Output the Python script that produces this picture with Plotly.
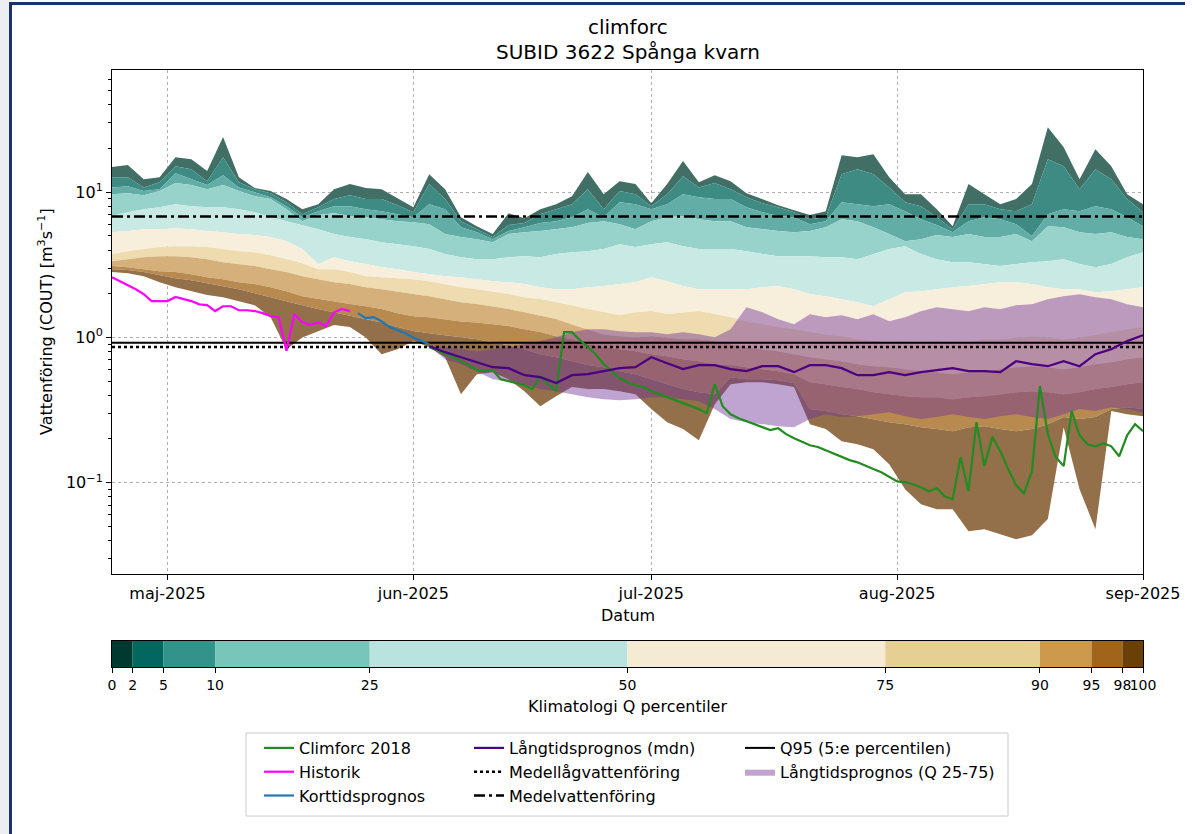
import pandas as pd
import plotly.graph_objects as go

# ---------------- data ----------------
band_dates = pd.date_range("2025-04-24", periods=66, freq="2D")
pct_levels = [0, 2, 5, 10, 25, 50, 75, 90, 95, 98, 100]

q_p000 = [14.9, 15.4, 12.3, 12.7, 17.4, 16.9, 14.0, 24.0, 12.7, 10.7,
          10.2, 8.97, 7.65, 8.28, 10.5, 11.4, 10.7, 10.5, 9.11, 7.89,
          13.3, 10.5, 6.74, 5.84, 5.15, 7.18, 6.63, 7.65, 8.28, 9.40,
          13.8, 9.70, 11.9, 11.4, 8.41, 11.4, 16.4, 11.7, 13.1, 11.9,
          9.86, 8.97, 8.15, 7.53, 6.96, 7.41, 18.0, 17.4, 18.3, 12.7,
          9.70, 9.70, 7.65, 5.84, 11.4, 9.70, 8.28, 8.97, 11.4, 28.0,
          20.4, 12.3, 19.8, 15.1, 9.70, 8.28]
q_p002 = [12.7, 12.7, 10.8, 11.7, 15.1, 14.4, 11.9, 17.4, 11.7, 10.5,
          9.86, 8.55, 7.07, 7.89, 8.97, 9.55, 8.97, 8.97, 8.15, 7.29,
          11.4, 8.97, 6.32, 5.57, 4.91, 5.94, 6.13, 7.07, 7.65, 8.28,
          10.5, 7.65, 10.2, 9.70, 8.02, 9.70, 12.9, 10.8, 11.6, 10.5,
          9.25, 8.41, 7.89, 7.29, 6.53, 6.74, 13.3, 14.4, 13.3, 10.8,
          8.55, 8.02, 6.74, 5.57, 8.28, 8.28, 7.65, 7.41, 8.28, 16.9,
          15.1, 10.5, 14.4, 12.3, 8.97, 7.29]
q_p005 = [10.8, 11.0, 10.2, 10.5, 13.5, 12.3, 11.2, 13.1, 10.8, 10.0,
          9.25, 8.02, 6.74, 7.41, 8.02, 8.02, 7.65, 7.41, 7.07, 6.74,
          8.28, 7.65, 5.75, 5.31, 4.75, 5.40, 5.75, 6.13, 6.32, 6.74,
          7.65, 6.74, 8.55, 8.28, 7.65, 8.28, 9.70, 9.25, 8.97, 8.97,
          7.89, 7.29, 6.85, 6.74, 6.03, 6.32, 8.55, 8.28, 8.02, 8.28,
          7.41, 6.53, 5.94, 5.31, 6.32, 6.74, 6.53, 6.03, 4.99, 7.07,
          7.65, 7.41, 8.02, 7.65, 6.74, 5.84]
q_p010 = [9.70, 9.86, 9.55, 10.2, 11.6, 11.2, 10.5, 11.2, 10.2, 9.40,
          8.97, 7.65, 6.32, 6.96, 7.18, 6.85, 6.74, 6.53, 6.32, 6.22,
          6.03, 5.15, 4.91, 4.75, 4.53, 5.15, 5.31, 5.40, 5.57, 5.75,
          6.13, 6.32, 6.03, 5.57, 6.32, 6.74, 6.85, 6.53, 6.32, 6.32,
          5.75, 5.57, 5.40, 5.31, 5.40, 5.75, 6.53, 6.32, 5.75, 5.15,
          4.60, 4.75, 5.07, 4.91, 5.15, 4.91, 4.91, 5.15, 4.60, 5.84,
          5.75, 5.31, 5.15, 5.31, 4.91, 4.75]
q_p025 = [6.85, 7.29, 7.65, 7.89, 8.28, 8.02, 7.89, 7.89, 7.65, 7.29,
          6.74, 6.32, 5.94, 5.57, 5.15, 4.91, 4.75, 4.53, 4.39, 4.25,
          4.06, 3.75, 3.57, 3.46, 3.46, 3.57, 3.63, 3.57, 3.75, 3.87,
          3.93, 4.06, 4.39, 4.19, 4.39, 4.53, 4.25, 4.06, 4.06, 4.06,
          3.93, 3.75, 3.63, 3.63, 3.63, 3.57, 3.57, 3.46, 3.75, 4.06,
          4.25, 3.75, 3.46, 3.30, 3.30, 3.20, 3.10, 3.20, 3.30, 3.35,
          3.46, 3.20, 3.05, 3.20, 3.57, 3.87]
q_p050 = [5.31, 5.40, 5.57, 5.57, 5.66, 5.57, 5.40, 5.31, 5.15, 5.07,
          4.91, 4.60, 4.06, 3.20, 3.57, 3.35, 3.20, 3.05, 2.95, 2.82,
          2.73, 2.64, 2.60, 2.52, 2.44, 2.40, 2.33, 2.22, 2.15, 2.15,
          2.22, 2.26, 2.33, 2.40, 2.60, 2.44, 2.26, 2.15, 2.15, 2.15,
          2.15, 2.22, 2.26, 2.15, 1.99, 1.92, 1.84, 1.75, 1.64, 1.84,
          2.05, 2.08, 2.15, 2.22, 2.26, 2.33, 2.40, 2.40, 2.33, 2.22,
          2.15, 2.15, 2.05, 2.08, 2.15, 2.22]
q_p075 = [3.75, 3.93, 4.06, 4.19, 4.25, 4.25, 4.19, 4.06, 3.93, 3.87,
          3.69, 3.46, 3.25, 2.95, 2.95, 2.82, 2.64, 2.60, 2.56, 2.52,
          2.44, 2.33, 2.22, 2.15, 2.08, 1.99, 1.89, 1.84, 1.75, 1.67,
          1.57, 1.49, 1.42, 1.49, 1.52, 1.45, 1.49, 1.52, 1.45, 1.38,
          1.29, 1.23, 1.18, 1.14, 1.09, 1.05, 1.02, 0.973, 0.944, 0.928,
          0.899, 0.928, 0.944, 0.899, 0.928, 0.973, 0.973, 1.00, 1.02, 1.00,
          0.973, 1.00, 1.05, 1.09, 1.14, 1.18]
q_p090 = [3.35, 3.46, 3.57, 3.63, 3.63, 3.57, 3.46, 3.30, 3.20, 3.10,
          2.95, 2.82, 2.64, 2.52, 2.40, 2.33, 2.22, 2.15, 2.08, 1.99,
          1.92, 1.84, 1.75, 1.70, 1.64, 1.57, 1.49, 1.42, 1.34, 1.23,
          1.14, 1.05, 1.02, 1.00, 1.02, 1.00, 0.973, 0.973, 0.944, 0.899,
          0.857, 0.831, 0.805, 0.767, 0.731, 0.708, 0.686, 0.655, 0.634, 0.624,
          0.605, 0.586, 0.577, 0.559, 0.577, 0.586, 0.605, 0.624, 0.634, 0.624,
          0.605, 0.624, 0.655, 0.676, 0.708, 0.731]
q_p095 = [3.10, 3.05, 2.95, 2.86, 2.82, 2.73, 2.60, 2.52, 2.40, 2.33,
          2.22, 2.08, 1.92, 1.84, 1.78, 1.70, 1.64, 1.57, 1.47, 1.40,
          1.38, 1.34, 1.29, 1.27, 1.23, 1.20, 1.14, 1.09, 1.02, 0.973,
          0.899, 0.857, 0.831, 0.805, 0.767, 0.743, 0.708, 0.686, 0.655, 0.645,
          0.624, 0.605, 0.586, 0.559, 0.492, 0.477, 0.455, 0.441, 0.420, 0.407,
          0.394, 0.388, 0.388, 0.376, 0.388, 0.394, 0.407, 0.420, 0.427, 0.420,
          0.407, 0.420, 0.441, 0.455, 0.477, 0.492]
q_p098 = [2.95, 2.91, 2.82, 2.69, 2.56, 2.48, 2.37, 2.26, 2.15, 2.02,
          1.89, 1.78, 1.67, 1.57, 1.49, 1.42, 1.34, 1.27, 1.18, 1.11,
          1.07, 1.04, 1.00, 0.973, 0.928, 0.885, 0.831, 0.767, 0.731, 0.686,
          0.645, 0.624, 0.586, 0.559, 0.516, 0.477, 0.441, 0.420, 0.407, 0.533,
          0.516, 0.516, 0.508, 0.485, 0.321, 0.311, 0.296, 0.287, 0.274, 0.261,
          0.253, 0.241, 0.234, 0.226, 0.241, 0.245, 0.234, 0.226, 0.234, 0.253,
          0.283, 0.274, 0.283, 0.321, 0.331, 0.321]
q_p100 = [2.82, 2.77, 2.64, 2.40, 2.22, 2.08, 1.96, 1.89, 1.78, 1.67,
          1.38, 0.831, 1.00, 1.11, 1.22, 1.18, 1.00, 0.767, 0.831, 0.944,
          0.857, 0.731, 0.407, 0.559, 0.577, 0.516, 0.427, 0.336, 0.394, 0.455,
          0.441, 0.441, 0.427, 0.407, 0.321, 0.261, 0.234, 0.196, 0.347, 0.477,
          0.492, 0.492, 0.477, 0.455, 0.253, 0.234, 0.193, 0.184, 0.170, 0.134,
          0.0902, 0.0711, 0.0657, 0.0657, 0.0463, 0.0478, 0.0442, 0.0408, 0.0435, 0.0561,
          0.241, 0.0902, 0.0478, 0.311, 0.296, 0.287]

lt_dates = pd.date_range("2025-06-03", periods=46, freq="2D")
lt_q75 = [0.871, 0.857, 0.831, 0.805, 0.831, 0.857, 0.899, 0.944, 1.005, 1.088,
          1.141, 1.141, 1.105, 1.088, 1.088, 1.054, 1.088, 1.054, 1.005, 1.141,
          1.617, 1.494, 1.337, 1.235, 1.446, 1.380, 1.424, 1.337, 1.446, 1.295,
          1.380, 1.517, 1.617, 1.567, 1.517, 1.617, 1.567, 1.669, 1.694, 1.836,
          1.925, 1.987, 1.894, 1.836, 1.694, 1.617]
lt_q25 = [0.871, 0.708, 0.655, 0.586, 0.516, 0.500, 0.477, 0.441, 0.427, 0.407,
          0.388, 0.376, 0.370, 0.376, 0.388, 0.388, 0.376, 0.364, 0.321, 0.274,
          0.261, 0.253, 0.245, 0.241, 0.274, 0.296, 0.283, 0.287, 0.296, 0.306,
          0.287, 0.274, 0.283, 0.296, 0.283, 0.274, 0.287, 0.296, 0.283, 0.274,
          0.296, 0.321, 0.311, 0.331, 0.321, 0.306]
lt_median = [0.871, 0.792, 0.731, 0.676, 0.624, 0.615, 0.550, 0.533, 0.485, 0.550,
             0.559, 0.586, 0.615, 0.624, 0.731, 0.665, 0.605, 0.645, 0.645, 0.605,
             0.586, 0.634, 0.634, 0.577, 0.645, 0.645, 0.615, 0.550, 0.550, 0.577,
             0.550, 0.577, 0.596, 0.615, 0.586, 0.586, 0.577, 0.686, 0.655, 0.634,
             0.686, 0.634, 0.767, 0.831, 0.944, 1.037]

hist_dates = pd.date_range("2025-04-24", periods=31, freq="D")
hist_q = [2.60, 2.44, 2.29, 2.15, 1.99, 1.78, 1.78, 1.78, 1.90, 1.84,
          1.78, 1.69, 1.67, 1.52, 1.64, 1.64, 1.54, 1.54, 1.52, 1.47,
          1.40, 1.38, 0.81, 1.45, 1.27, 1.22, 1.27, 1.20, 1.49, 1.57, 1.52]

short_dates = pd.date_range("2025-05-25", periods=10, freq="D")
short_q = [1.47, 1.36, 1.38, 1.29, 1.18, 1.12, 1.07, 1.00, 0.944, 0.899]

cf_dates = pd.date_range("2025-06-03", periods=91, freq="D")
cf2018_q = [0.857, 0.818, 0.767, 0.731, 0.686, 0.645, 0.596, 0.586, 0.596, 0.516,
            0.500, 0.485, 0.469, 0.441, 0.541, 0.477, 0.427, 1.088, 1.088, 0.958,
            0.857, 0.767, 0.655, 0.586, 0.525, 0.492, 0.469, 0.455, 0.427, 0.407,
            0.388, 0.370, 0.353, 0.336, 0.321, 0.301, 0.477, 0.336, 0.296, 0.278,
            0.265, 0.253, 0.241, 0.230, 0.237, 0.216, 0.202, 0.190, 0.181, 0.176,
            0.167, 0.160, 0.152, 0.143, 0.138, 0.130, 0.124, 0.118, 0.109, 0.102,
            0.101, 0.0976, 0.0931, 0.0873, 0.0916, 0.0807, 0.0769, 0.150, 0.0873, 0.261,
            0.130, 0.206, 0.165, 0.124, 0.0960, 0.0845, 0.120, 0.462, 0.216, 0.150,
            0.130, 0.311, 0.212, 0.184, 0.178, 0.187, 0.178, 0.152, 0.212, 0.253,
            0.226]

mean_flow = 6.8        # Medelvattenföring
mean_low_flow = 0.86   # Medellågvattenföring
q95_flow = 0.92        # Q95

month_ticks = ["2025-05-01", "2025-06-01", "2025-07-01", "2025-08-01", "2025-09-01"]
month_labels = ["maj-2025", "jun-2025", "jul-2025", "aug-2025", "sep-2025"]

# ---------------- styles ----------------
band_fill = ["#416f66", "#3e8b83", "#62ada6", "#97d3ca", "#c8e9e4",
             "#f7eedc", "#eedbb0", "#d6b07a", "#b88a50", "#93704a"]
cbar_colors = ["#00392f", "#02675f", "#33938b", "#78c6ba", "#b8e3de",
               "#f5ebd3", "#e6cf93", "#cc9a4c", "#a0651a", "#6b3f08"]
purple_fill = "rgba(113,51,153,0.45)"
FONT = "DejaVu Sans"

fig = go.Figure()

curves = [q_p000, q_p002, q_p005, q_p010, q_p025, q_p050,
          q_p075, q_p090, q_p095, q_p098, q_p100]
for i, vals in enumerate(curves):
    fig.add_trace(go.Scatter(
        x=band_dates, y=vals, mode="lines",
        line=dict(width=0, color=band_fill[max(i - 1, 0)]),
        fill="tonexty" if i > 0 else None,
        fillcolor=band_fill[i - 1] if i > 0 else None,
        showlegend=False, hoverinfo="skip"))

fig.add_trace(go.Scatter(x=lt_dates, y=lt_q75, mode="lines",
                         line=dict(width=0, color=purple_fill),
                         showlegend=False, hoverinfo="skip"))
fig.add_trace(go.Scatter(x=lt_dates, y=lt_q25, mode="lines",
                         line=dict(width=0, color=purple_fill),
                         fill="tonexty", fillcolor=purple_fill,
                         name="Långtidsprognos (Q 25-75)",
                         legend="legend3", legendrank=2))

x_full = [band_dates[0], band_dates[-1]]
fig.add_trace(go.Scatter(x=x_full, y=[q95_flow, q95_flow], mode="lines",
                         line=dict(color="black", width=2),
                         name="Q95 (5:e percentilen)", legend="legend3", legendrank=1))
fig.add_trace(go.Scatter(x=x_full, y=[mean_low_flow, mean_low_flow], mode="lines",
                         line=dict(color="black", width=2.5, dash="3px,3px"),
                         name="Medellågvattenföring", legend="legend2", legendrank=2))
fig.add_trace(go.Scatter(x=x_full, y=[mean_flow, mean_flow], mode="lines",
                         line=dict(color="black", width=2.5, dash="11px,4px,3px,4px"),
                         name="Medelvattenföring", legend="legend2", legendrank=3))

fig.add_trace(go.Scatter(x=hist_dates, y=hist_q, mode="lines",
                         line=dict(color="#ff00ff", width=2.2),
                         name="Historik", legend="legend", legendrank=2))
fig.add_trace(go.Scatter(x=short_dates, y=short_q, mode="lines",
                         line=dict(color="#1f77b4", width=2.2),
                         name="Korttidsprognos", legend="legend", legendrank=3))
fig.add_trace(go.Scatter(x=cf_dates, y=cf2018_q, mode="lines",
                         line=dict(color="#228b22", width=2.2),
                         name="Climforc 2018", legend="legend", legendrank=1))
fig.add_trace(go.Scatter(x=lt_dates, y=lt_median, mode="lines",
                         line=dict(color="#4b0082", width=2.2),
                         name="Långtidsprognos (mdn)", legend="legend2", legendrank=1))

# colorbar as bars on a second axis
cb_lo = pct_levels[:-1]
cb_w = [b - a for a, b in zip(pct_levels[:-1], pct_levels[1:])]
fig.add_trace(go.Bar(x=cb_w, base=cb_lo, y=[0.5] * len(cb_w), width=1,
                     orientation="h", marker=dict(color=cbar_colors, line=dict(width=0)),
                     xaxis="x2", yaxis="y2", showlegend=False, hoverinfo="skip"))

H = 834.0
PH = 764.0   # paper height (t=70, b=0)
PW = 1031.0  # paper width


def py(p):
    return (H - p) / PH


def px(p):
    return (p - 112) / PW


minor_vals = [0.03, 0.04, 0.05, 0.06, 0.07, 0.08, 0.09,
              0.2, 0.3, 0.4, 0.5, 0.6, 0.7, 0.8, 0.9,
              2, 3, 4, 5, 6, 7, 8, 9, 20, 30, 40, 50, 60]

legend_common = dict(xanchor="left", yanchor="top", bgcolor="rgba(0,0,0,0)",
                     borderwidth=0, font=dict(family=FONT, size=16, color="black"),
                     orientation="v", tracegroupgap=0, traceorder="normal")

fig.update_layout(
    width=1193, height=834, template="none",
    paper_bgcolor="white", plot_bgcolor="white",
    font=dict(family=FONT, size=16, color="black"),
    margin=dict(l=112, r=50, t=70, b=0, autoexpand=False),
    barmode="overlay", hovermode=False,
    xaxis=dict(type="date", range=["2025-04-24", "2025-09-01"], domain=[0, 1], anchor="y",
               tickmode="array", tickvals=month_ticks, ticktext=month_labels,
               ticks="outside", ticklen=5, tickwidth=1, tickcolor="black",
               showline=True, linecolor="black", linewidth=1, mirror=True,
               showgrid=True, gridcolor="#b0b0b0", griddash="dot", gridwidth=1,
               zeroline=False, tickfont=dict(size=16), tickangle=0),
    yaxis=dict(type="log", range=[-1.629, 1.842], domain=[py(574), 1], anchor="x",
               tickmode="array", tickvals=[0.1, 1, 10],
               ticktext=["10<sup>−1</sup>", "10<sup>0</sup>", "10<sup>1</sup>"],
               ticks="outside", ticklen=5, tickwidth=1, tickcolor="black",
               showline=True, linecolor="black", linewidth=1, mirror=True,
               showgrid=True, gridcolor="#b0b0b0", griddash="dot", gridwidth=1,
               zeroline=False, tickfont=dict(size=16),
               minor=dict(tickmode="array", tickvals=minor_vals, ticks="outside",
                          ticklen=3, tickwidth=1, tickcolor="black", showgrid=False)),
    xaxis2=dict(domain=[0, 1], anchor="y2", range=[0, 100],
                tickmode="array", tickvals=pct_levels, ticktext=[str(v) for v in pct_levels],
                ticks="outside", ticklen=5, tickwidth=1, tickcolor="black",
                showline=True, linecolor="black", linewidth=1, mirror=True,
                showgrid=False, zeroline=False, tickfont=dict(size=14), tickangle=0),
    yaxis2=dict(domain=[py(667), py(641)], anchor="x2", range=[0, 1],
                showticklabels=False, ticks="", showline=True, linecolor="black",
                linewidth=1, mirror=True, showgrid=False, zeroline=False),
    legend=dict(x=px(259), y=py(731), **legend_common),
    legend2=dict(x=px(469), y=py(731), **legend_common),
    legend3=dict(x=px(740), y=py(731), **legend_common),
    annotations=[
        dict(text="climforc", x=0.5, y=py(27), xref="paper", yref="paper",
             showarrow=False, font=dict(size=20), xanchor="center", yanchor="middle"),
        dict(text="SUBID 3622 Spånga kvarn", x=0.5, y=py(52), xref="paper", yref="paper",
             showarrow=False, font=dict(size=20), xanchor="center", yanchor="middle"),
        dict(text="Vattenföring (COUT) [m<sup>3</sup>s<sup>−1</sup>]", x=px(45), y=py(322),
             xref="paper", yref="paper", showarrow=False, textangle=-90,
             font=dict(size=16), xanchor="center", yanchor="middle"),
        dict(text="Datum", x=0.5, y=py(615), xref="paper", yref="paper",
             showarrow=False, font=dict(size=16), xanchor="center", yanchor="middle"),
        dict(text="Klimatologi Q percentiler", x=0.5, y=py(706), xref="paper", yref="paper",
             showarrow=False, font=dict(size=16), xanchor="center", yanchor="middle"),
    ],
    shapes=[
        dict(type="rect", xref="paper", yref="paper", x0=px(246), x1=px(1008),
             y0=py(816), y1=py(733), line=dict(color="#cccccc", width=1),
             fillcolor="rgba(0,0,0,0)", layer="below"),
        dict(type="rect", xref="paper", yref="paper", x0=px(0), x1=px(9.5),
             y0=py(834), y1=py(0), line=dict(width=0), fillcolor="#eceef1", layer="below"),
        dict(type="line", xref="paper", yref="paper", x0=px(10.5), x1=px(10.5),
             y0=py(834), y1=py(2.5), line=dict(color="#1c3370", width=3)),
        dict(type="line", xref="paper", yref="paper", x0=px(9), x1=px(1185),
             y0=py(3.5), y1=py(3.5), line=dict(color="#1c3370", width=3)),
    ],
)

fig.write_html("out.html", config={"displayModeBar": False},
               post_script="document.body.style.margin='0px';document.body.style.padding='0px';")
